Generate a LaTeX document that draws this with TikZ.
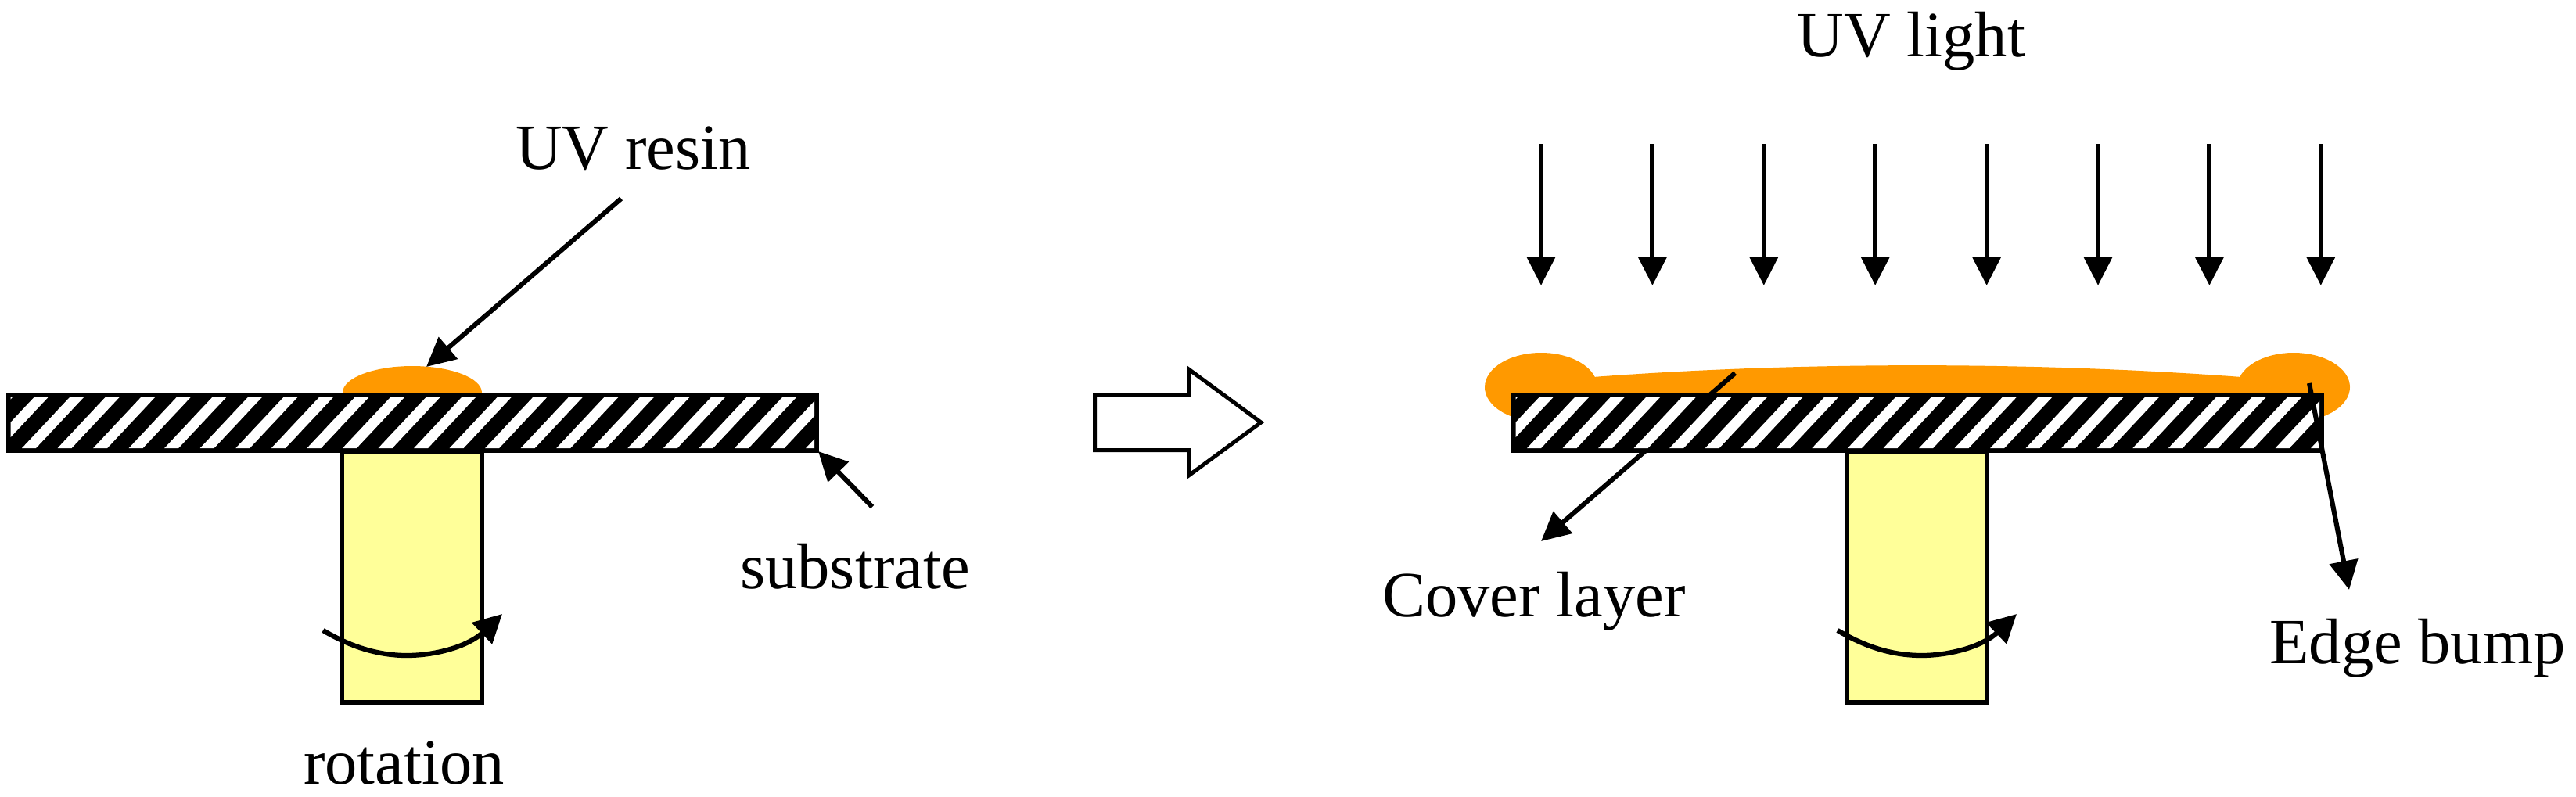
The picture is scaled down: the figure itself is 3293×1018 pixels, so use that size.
\documentclass[tikz,border=0pt]{standalone}
\usepackage{fontspec}
\setmainfont{Liberation Serif}
\usetikzlibrary{arrows.meta}
\definecolor{resin}{HTML}{FF9900}
\definecolor{post}{HTML}{FFFF99}
\tikzset{
  label text/.style={anchor=base,inner sep=0pt,font=\fontsize{47}{50}\selectfont},
  arrowline/.style={line width=0.122cm,-{Triangle[length=0.74cm,width=0.72cm]}},
  slabbox/.style={fill=black,inner sep=0pt,minimum width=1038.5*0.02cm,minimum height=76.5*0.02cm},
  postbox/.style={draw=black,fill=post,line width=0.11cm,inner sep=0pt,minimum width=179*0.02cm,minimum height=320*0.02cm},
  resinfill/.style={fill=resin,draw=none},
  turn/.style={line width=0.125cm,-{Triangle[length=0.72cm,width=0.73cm]}},
  block/.style={draw=black,fill=white,line width=0.1cm,miter limit=10}
}
\newcommand{\slabstripes}[1]{%
  \begin{scope}[shift={(#1,0)}]
    \clip (13.5,508) rectangle (1041,573);
    \foreach \k in {-2,...,23}{
      \fill[white] ({28+45.55*\k},573) -- ({46+45.55*\k},573) -- ({107+45.55*\k},508) -- ({89+45.55*\k},508) -- cycle;
    }
  \end{scope}}
\begin{document}
\begin{tikzpicture}[x=0.02cm,y=-0.02cm]
\useasboundingbox (0,0) rectangle (3293,1018);
% left assembly
\fill[resinfill] (527,502) ellipse [x radius=89,y radius=34];
\node[slabbox] (slabL) at (527.25,540.25) {};
\slabstripes{0}
\node[postbox] (postL) at (527,738) {};
\coordinate (resinFrom) at (794,254);
\coordinate (resinTo) at (545,469);
\draw[arrowline] (resinFrom) -- (resinTo);
\coordinate (subFrom) at (1115,648);
\coordinate (subTo) at (1046,577);
\draw[arrowline] (subFrom) -- (subTo);
\coordinate (rotLa) at (413,806);
\coordinate (rotLm) at (520,838);
\coordinate (rotLb) at (642,785);
\draw[turn] (rotLa) .. controls (450,828) and (485,838) .. (rotLm) .. controls (560,838) and (600,825) .. (rotLb);
\node[label text] (lblResin) at (809.5,216) {UV resin};
\node[label text] (lblSub) at (1093,752) {substrate};
\node[label text] (lblRot) at (516.5,1002) {rotation};
% block arrow
\draw[block] (1399.5,504.5) -- (1519.5,504.5) -- (1519.5,472) -- (1612,540) -- (1519.5,608) -- (1519.5,575.5) -- (1399.5,575.5) -- cycle;
% right assembly
\fill[resinfill] (1970,495) ellipse [x radius=72,y radius=44];
\fill[resinfill] (2932,495) ellipse [x radius=72,y radius=44];
\fill[resinfill] (2030,482.5) .. controls (2300,462) and (2602,462) .. (2872,482.5) -- (2872,510) -- (2030,510) -- cycle;
\coordinate (covFrom) at (2218,477);
\coordinate (covTo) at (1970,692);
\draw[arrowline] (covFrom) -- (covTo);
\node[slabbox] (slabR) at (2451.25,540.25) {};
\slabstripes{1924}
\node[postbox] (postR) at (2451,738) {};
\coordinate (edgeFrom) at (2952,490);
\coordinate (edgeTo) at (3003,754);
\draw[arrowline] (edgeFrom) -- (edgeTo);
\coordinate (rotRa) at (2349,806);
\coordinate (rotRm) at (2456,838);
\coordinate (rotRb) at (2578,785);
\draw[turn] (rotRa) .. controls (2386,828) and (2421,838) .. (rotRm) .. controls (2496,838) and (2536,825) .. (rotRb);
\foreach \i in {0,...,7}{
  \coordinate (uvA\i) at ({1970+142.4*\i},184);
  \coordinate (uvB\i) at ({1970+142.4*\i},365);
  \draw[arrowline] (uvA\i) -- (uvB\i);
}
\node[label text] (lblUV) at (2443.5,72) {UV light};
\node[label text] (lblCov) at (1961,788) {Cover layer};
\node[label text] (lblEdge) at (3090.5,848) {Edge bump};
\end{tikzpicture}
\end{document}
